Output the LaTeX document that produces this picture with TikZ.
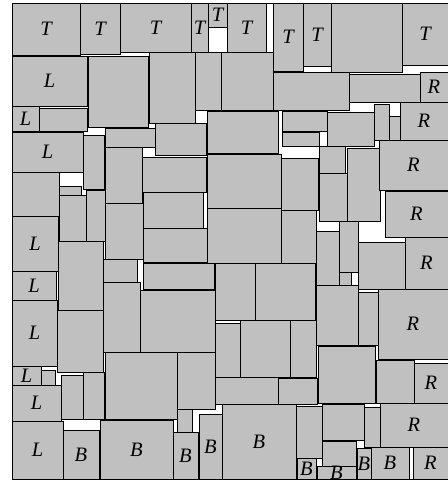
\documentclass[tikz,border=0pt]{standalone}
\usepackage{fontspec}
\setmainfont{Liberation Serif}
\usepackage{tikz}
\definecolor{silv}{HTML}{C0C0C0}
\tikzset{
  blk/.style={draw=black,fill=silv,line width=0.6pt},
  lab/.style={font=\fontsize{20.5}{22}\selectfont\itshape,inner sep=0pt},
  frm/.style={draw=black,line width=0.6pt},
}
\begin{document}
\begin{tikzpicture}[x=1pt,y=-1pt]
\useasboundingbox (0,0) rectangle (448,483);
\draw[frm] (12,3) rectangle (448,479);
\foreach \a/\b/\c/\d in {88/56/148/127, 149/52/195/123, 195/52/221/110, 221/52/273/110,
  331/3/402/72, 273/72/349/110, 349/74/420/102, 39/108/87/131, 12/172/59/216, 41/370/55/385,
  282/111/327/131, 282/132/319/146, 327/112/374/146, 374/104/389/140, 389/116/400/140,
  347/148/380/221, 319/146/345/173, 319/173/347/221, 281/158/318/210, 281/210/316/264,
  316/231/339/285, 339/221/358/272, 339/272/351/285, 358/242/405/289, 316/285/358/345,
  358/292/378/345, 318/346/375/403, 376/360/414/403, 322/404/364/440, 364/407/380/447,
  296/406/322/458, 322/441/356/466, 290/320/316/377, 240/320/290/377, 215/323/240/377,
  215/377/278/404, 278/378/317/404, 255/263/315/320, 215/263/255/320, 207/208/281/263,
  207/154/281/208, 207/111/278/153, 155/123/206/155, 105/128/155/147, 83/135/104/189,
  105/147/142/203, 142/157/206/192, 143/192/203/228, 143/228/207/262, 105/203/143/259,
  143/263/214/289, 140/290/215/352, 103/259/137/282, 103/282/140/352, 59/186/81/195,
  59/195/86/241, 86/190/105/241, 58/241/103/310, 57/310/103/372, 61/375/83/419,
  83/372/104/419, 105/352/177/419, 177/352/215/409, 177/409/192/432}
  \draw[blk] (\a,\b) rectangle (\c,\d);
\foreach \a/\b/\c/\d/\s [count=\i] in {12/3/80/55/T, 80/3/120/54/T, 120/3/191/52/T,
  191/3/208/52/T, 208/3/227/27/T, 227/3/266/52/T, 273/3/303/71/T, 303/3/331/66/T,
  402/3/448/65/T,
  12/56/87/106/L, 12/106/39/131/L, 12/132/83/172/L, 12/216/58/271/L, 12/271/56/300/L,
  12/300/57/366/L, 12/366/41/385/L, 12/385/61/421/L, 12/421/63/479/L,
  63/430/99/479/B, 100/420/173/479/B, 173/432/198/479/B, 199/414/222/479/B,
  222/404/296/479/B, 297/458/316/479/B, 317/466/356/479/B, 357/448/371/479/B,
  371/447/409/479/B,
  420/72/448/102/R, 400/102/448/140/R, 379/140/448/190/R, 385/191/448/237/R,
  405/237/448/289/R, 378/289/448/359/R, 414/363/448/403/R, 380/403/448/447/R,
  413/447/448/479/R}
  {
  \draw[blk] (\a,\b) rectangle (\c,\d);
  \node[lab] (n\i) at ({(\a+\c)/2},{(\b+\d)/2}) {\s};
  }
\end{tikzpicture}
\end{document}
